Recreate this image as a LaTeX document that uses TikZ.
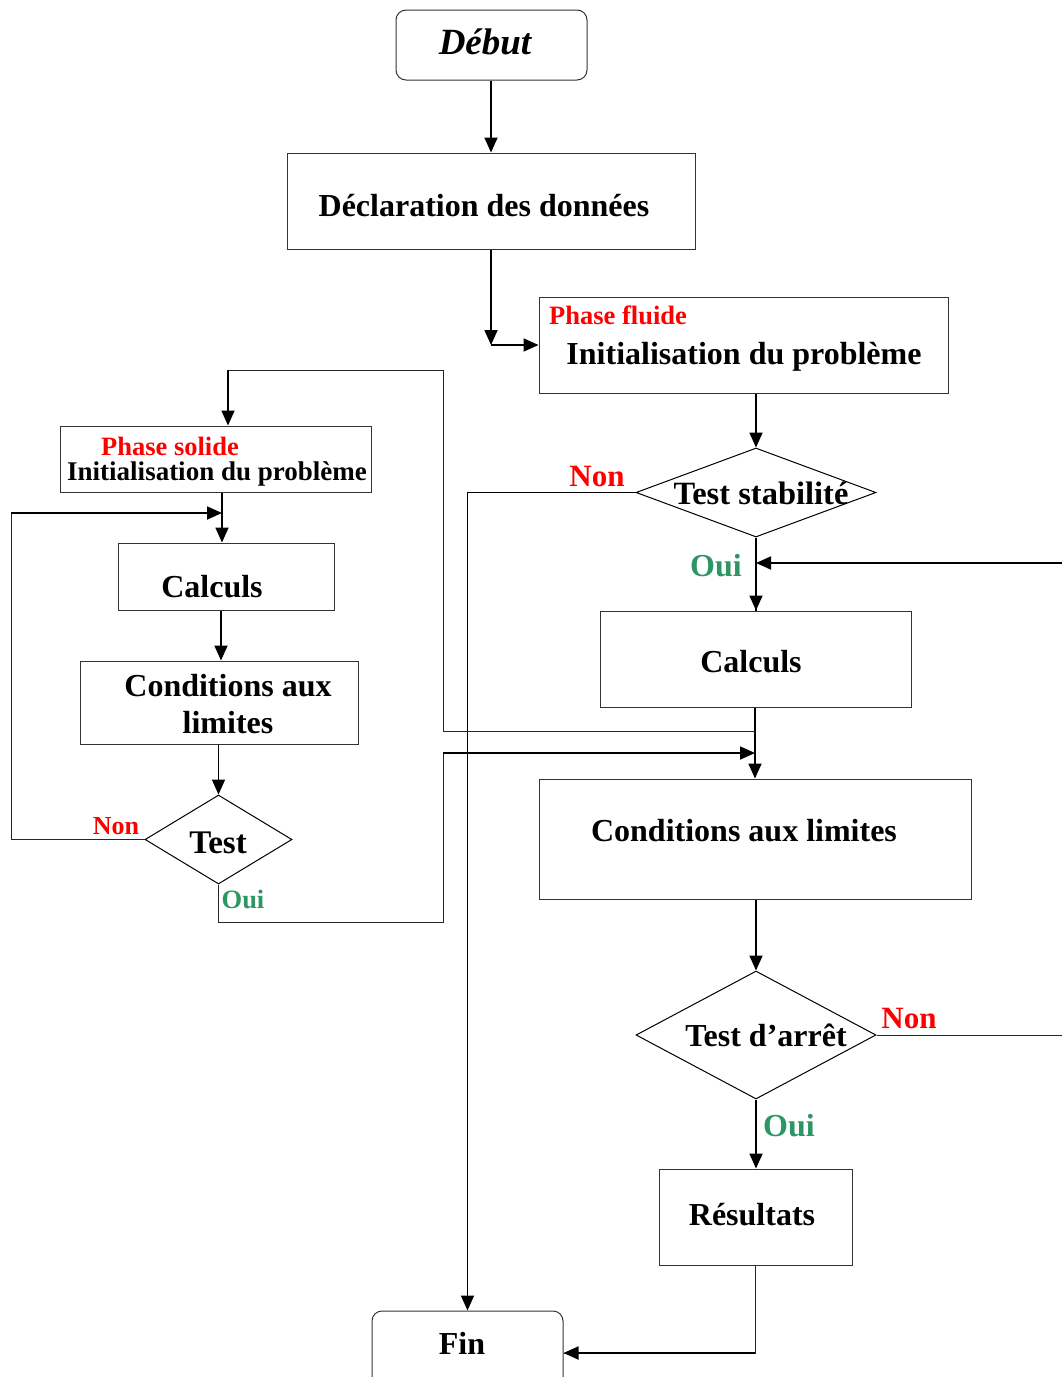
\documentclass[tikz,border=0pt]{standalone}
\usepackage{fontspec}
\setmainfont{Liberation Serif}
\usetikzlibrary{arrows.meta,shapes.geometric}
\definecolor{ouigreen}{RGB}{46,150,100}
\tikzset{
  box/.style={draw=black!80,line width=1pt,rectangle,inner sep=0pt},
  rbox/.style={box,rounded corners=10pt},
  dbox/.style={draw=black,line width=1pt,diamond,inner sep=0pt},
  lbl/.style={inner sep=0pt,font=\fontsize{#1}{#1}\selectfont\bfseries},
  arr/.style={line width=1.8pt,-{Triangle[length=15pt,width=13pt]}},
  ln/.style={line width=1.8pt},
  thin/.style={line width=1pt,draw=black!85},
  non/.style={text=red},
  oui/.style={text=ouigreen},
}
\begin{document}
\begin{tikzpicture}[x=1pt,y=-1pt]
\useasboundingbox (0,0) rectangle (1062,1377);
% right column boxes
\node[rbox,minimum width=191pt,minimum height=70pt] (debut) at (491.5,45) {};
\node[lbl=37] (debutt) at (485,42) {\itshape Début};
\node[box,minimum width=408pt,minimum height=96pt] (decl) at (491,201) {};
\node[lbl=32] (declt) at (484,206) {Déclaration des données};
\node[box,minimum width=409pt,minimum height=96pt] (fluid) at (743.5,345) {};
\node[lbl=26.5,non,anchor=west] (fluidr) at (549,315) {Phase fluide};
\node[lbl=32] (fluidt) at (744,357) {Initialisation du problème};
\node[dbox,minimum width=240pt,minimum height=89pt] (tstab) at (756,492.5) {};
\node[lbl=32.5] (tstabt) at (761,493) {Test stabilité};
\node[lbl=31,non] (non1) at (597,476) {Non};
\node[lbl=32,oui] (oui1) at (716,566) {Oui};
\node[box,minimum width=311pt,minimum height=96pt] (calcR) at (755.5,659) {};
\node[lbl=32] (calcRt) at (751,662) {Calculs};
\node[box,minimum width=432pt,minimum height=120pt] (clR) at (755,839) {};
\node[lbl=32] (clRt) at (744,831) {Conditions aux limites};
\node[dbox,minimum width=240pt,minimum height=128pt] (tarret) at (756,1035) {};
\node[lbl=32] (tarrett) at (766,1035) {Test d’arrêt};
\node[lbl=31,non] (non2) at (909,1018) {Non};
\node[lbl=32,oui] (oui2) at (789,1126) {Oui};
\node[box,minimum width=193pt,minimum height=96pt] (res) at (755.5,1217) {};
\node[lbl=32] (rest) at (752,1215) {Résultats};
\node[rbox,minimum width=191pt,minimum height=84pt] (fin) at (467.5,1353) {};
\node[lbl=32] (fint) at (462,1343) {Fin};
% left column
\node[box,minimum width=311pt,minimum height=66pt] (solid) at (215.5,459) {};
\node[lbl=26.5,non] (solidr) at (170,446) {Phase solide};
\node[lbl=27] (solidt) at (217,474) {Initialisation du problème};
\node[box,minimum width=216pt,minimum height=67pt] (calcL) at (226,576.5) {};
\node[lbl=32] (calcLt) at (212,587) {Calculs};
\node[box,minimum width=278pt,minimum height=83pt] (clL) at (219,702.5) {};
\node[lbl=32] (clLt1) at (228,686) {Conditions aux};
\node[lbl=32] (clLt2) at (228,723) {limites};
\node[dbox,minimum width=147pt,minimum height=89pt] (testL) at (218.5,839.5) {};
\node[lbl=33] (testLt) at (218,843) {Test};
\node[lbl=26,non] (non3) at (116,826) {Non};
\node[lbl=26.5,oui] (oui3) at (243,899) {Oui};
% coordinates
\coordinate (c1) at (491,345);
\coordinate (rin) at (1062,563);
\coordinate (rout) at (1062,1035);
\coordinate (j1) at (755,731);
\coordinate (j2) at (443,370);
\coordinate (j3) at (228,370);
\coordinate (axL) at (222,0);
\coordinate (lp) at (11,513);
\coordinate (k1) at (443,922);
\coordinate (k2) at (443,753);
\coordinate (k3) at (755,753);
% connectors right
\draw[arr] (debut.south -| decl.north) -- (decl.north);
\draw[arr] (decl.south) -- (c1);
\draw[arr] (c1) -- (fluid.west);
\draw[arr] (tstab.north |- fluid.south) -- (tstab.north);
\draw[arr] (tstab.west) -| (fin.north);
\draw[ln] (tstab.south) -- (tstab.south |- calcR.north);
\draw[arr] (tstab.south |- oui1) -- (tstab.south |- calcR.north);
\draw[arr] (rin) -- (rin -| tstab.south);
\draw[arr] (j1 |- calcR.south) -- (j1 |- clR.north);
\draw[arr] (clR.south -| tarret.north) -- (tarret.north);
\draw[thin] (tarret.east) -- (rout);
\draw[arr] (tarret.south) -- (tarret.south |- res.north);
\draw[thin] (j1 |- res.south) |- (fin.east);
\draw[arr] (j1 |- fin.east) -- (fin.east);
% connections between columns
\draw[thin] (j1) -- (j1 -| j2) -- (j2) -- (j3);
\draw[arr] (j3) -- (j3 |- solid.north);
\draw[thin] (testL.south) |- (k1) -- (k2);
\draw[arr] (k2) -- (k3);
% left connectors
\draw[arr] (solid.south -| axL) -- (calcL.north -| axL);
\draw[thin] (testL.west) -| (lp);
\draw[arr] (lp) -- (lp -| axL);
\draw[arr] (calcL.south -| 221,0) -- (clL.north -| 221,0);
\draw[arr] (clL.south -| testL.north) -- (testL.north);
\end{tikzpicture}
\end{document}
